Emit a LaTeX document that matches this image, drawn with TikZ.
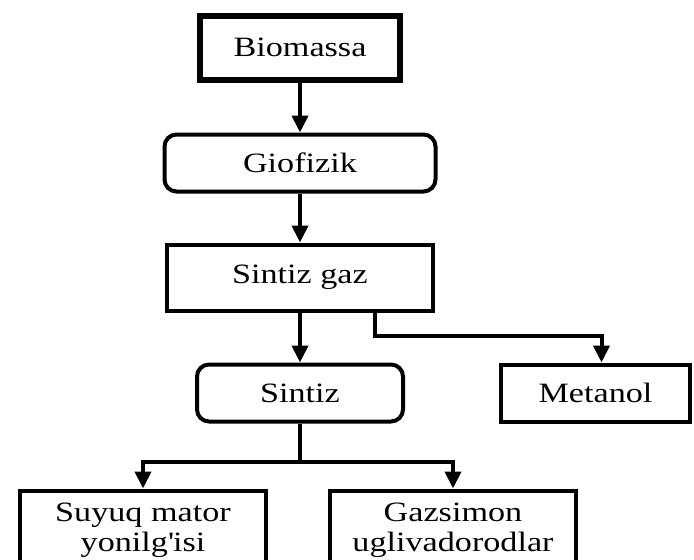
\documentclass[tikz,border=0pt]{standalone}
\usepackage{fontspec}
\setmainfont{Liberation Serif}[FakeStretch=1.22]
\usetikzlibrary{positioning, arrows.meta}

\begin{document}
\begin{tikzpicture}[
    box/.style={draw, rectangle, line width=4pt, minimum height=57pt, align=center, inner sep=2pt, font=\fontsize{28}{30}\selectfont},
    rbox/.style={box, rounded corners=12pt},
    arrow/.style={-{Triangle[width=16pt,length=17pt]}, line width=4pt}
]
\clip (0,0) rectangle (694pt,-560pt);

% Main chain
\node[box, line width=6pt, minimum width=200pt, minimum height=64pt] (bio) at (300pt,-47.5pt) {Biomassa};
\node[rbox, minimum width=271pt, below=50pt of bio] (gio) {Giofizik};
\node[box, minimum width=266pt, minimum height=66pt, below=49pt of gio] (sgaz) {Sintiz gaz};
\node[rbox, minimum width=206pt, below=50pt of sgaz] (sintiz) {Sintiz};

% Side branch
\node[box, minimum width=189pt, right=94pt of sintiz] (metanol) {Metanol};

% Products
\node[box, minimum width=246pt, minimum height=80pt, below=65pt of sintiz, xshift=-157pt] (suyuq) {Suyuq mator\\yonilg\textquotesingle isi};
\node[box, minimum width=246pt, minimum height=80pt, right=60pt of suyuq] (gazs) {Gazsimon\\uglivadorodlar};

% Arrows
\draw[arrow] (bio) -- (gio);
\draw[arrow] (gio) -- (sgaz);
\draw[arrow] (sgaz) -- (sintiz);
\draw[arrow] ([xshift=75pt]sgaz.south) -- ++(0,-23pt) -| ([xshift=6pt]metanol.north);

\draw[arrow] (sintiz.south) -- ++(0,-38pt) -| (suyuq.north);
\draw[arrow] (sintiz.south) -- ++(0,-38pt) -| (gazs.north);

\end{tikzpicture}
\end{document}
